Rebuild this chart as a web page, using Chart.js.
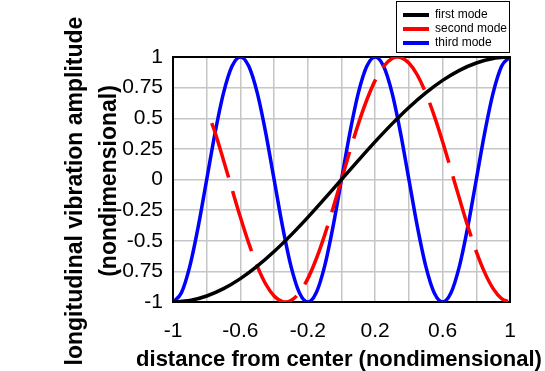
<!DOCTYPE html>
<html>
<head>
<meta charset="utf-8">
<script src="https://cdn.jsdelivr.net/npm/chart.js@4/dist/chart.umd.min.js"></script>
<style>
  body { margin: 0; background: #fff; }
</style>
</head>
<body>
<canvas id="grafico" width="545" height="371"></canvas>
<script>
// valores
const firstModeX = [-1, -0.9, -0.8, -0.7, -0.6, -0.5, -0.4, -0.3, -0.2, -0.1, 0,
    0.1, 0.2, 0.3, 0.4, 0.5, 0.6, 0.7, 0.8, 0.9, 1];
const firstModeY = [-1, -0.988, -0.951, -0.891, -0.809, -0.707, -0.588, -0.454, -0.309, -0.156, 0,
    0.156, 0.309, 0.454, 0.588, 0.707, 0.809, 0.891, 0.951, 0.988, 1];

const secondModeX = [-0.77, -0.75, -0.7, -0.65, -0.6, -0.55, -0.5, -0.45, -0.4, -0.35, -0.333, -0.3, -0.25, -0.2, -0.15, -0.1, -0.05, 0,
    0.05, 0.1, 0.15, 0.2, 0.25, 0.3, 0.333, 0.35, 0.4, 0.45, 0.5, 0.55, 0.6, 0.65, 0.7, 0.75, 0.8, 0.85, 0.9, 0.95, 1];
const secondModeY = [0.46, 0.383, 0.156, -0.078, -0.309, -0.522, -0.707, -0.853, -0.951, -0.997, -1, -0.988, -0.924, -0.809, -0.649, -0.454, -0.233, 0,
    0.233, 0.454, 0.649, 0.809, 0.924, 0.988, 1, 0.997, 0.951, 0.853, 0.707, 0.522, 0.309, 0.078, -0.156, -0.383, -0.588, -0.76, -0.891, -0.972, -1];

const thirdModeX = [-1, -0.95, -0.9, -0.85, -0.8, -0.75, -0.7, -0.65, -0.6, -0.55, -0.5, -0.45, -0.4, -0.35, -0.3, -0.25, -0.2, -0.15, -0.1, -0.05, 0,
    0.05, 0.1, 0.15, 0.2, 0.25, 0.3, 0.35, 0.4, 0.45, 0.5, 0.55, 0.6, 0.65, 0.7, 0.75, 0.8, 0.85, 0.9, 0.95, 1];
const thirdModeY = [-1, -0.924, -0.707, -0.383, 0, 0.383, 0.707, 0.924, 1, 0.924, 0.707, 0.383, 0, -0.383, -0.707, -0.924, -1, -0.924, -0.707, -0.383, 0,
    0.383, 0.707, 0.924, 1, 0.924, 0.707, 0.383, 0, -0.383, -0.707, -0.924, -1, -0.924, -0.707, -0.383, 0, 0.383, 0.707, 0.924, 1];

const seriesNames = ["first mode", "second mode", "third mode"];
const xTickLabels = ["-1", "-0.6", "-0.2", "0.2", "0.6", "1"];
const yTickLabels = ["-1", "-0.75", "-0.5", "-0.25", "0", "0.25", "0.5", "0.75", "1"];
const xTitle = "distance from center (nondimensional)";
const yTitle = ["longitudinal vibration amplitude", "(nondimensional)"];

function puntos(xs, ys) {
    return xs.map((x, i) => ({ x: x, y: ys[i] }));
}

const FONT = "'Liberation Sans', Arial, sans-serif";

// marco negro debajo de las curvas
const marco = {
    id: "marco",
    beforeDatasetsDraw(chart) {
        const a = chart.chartArea;
        const ctx = chart.ctx;
        ctx.save();
        ctx.strokeStyle = "#000";
        ctx.lineWidth = 2;
        ctx.strokeRect(a.left, a.top, a.right - a.left, a.bottom - a.top);
        ctx.restore();
    }
};

// titulos de los ejes y leyenda en caja
const extras = {
    id: "extras",
    afterDraw(chart) {
        const ctx = chart.ctx;
        ctx.save();
        ctx.fillStyle = "#000";
        ctx.textAlign = "center";
        ctx.textBaseline = "alphabetic";

        ctx.font = "bold 22px " + FONT;
        ctx.fillText(xTitle, 339, 366);

        ctx.font = "bold 23px " + FONT;
        [[82, 191], [116, 181]].forEach((p, i) => {
            ctx.save();
            ctx.translate(p[0], p[1]);
            ctx.rotate(-Math.PI / 2);
            ctx.fillText(yTitle[i], 0, 0);
            ctx.restore();
        });

        // leyenda
        ctx.fillStyle = "#fff";
        ctx.fillRect(396.5, 1.5, 113, 51);
        ctx.strokeStyle = "#000";
        ctx.lineWidth = 1;
        ctx.strokeRect(396.5, 1.5, 113, 51);
        ctx.font = "12px " + FONT;
        ctx.textAlign = "left";
        ctx.textBaseline = "middle";
        chart.data.datasets.forEach((ds, i) => {
            const y = 15 + i * 14;
            ctx.strokeStyle = ds.borderColor;
            ctx.lineWidth = 4;
            ctx.beginPath();
            ctx.moveTo(403, y);
            ctx.lineTo(429, y);
            ctx.stroke();
            ctx.fillStyle = "#000";
            ctx.fillText(ds.label, 435, y);
        });
        ctx.restore();
    }
};

const ctx = document.getElementById("grafico").getContext("2d");
new Chart(ctx, {
    type: "line",
    data: {
        datasets: [{
            label: seriesNames[0],
            data: puntos(firstModeX, firstModeY),
            borderColor: "#000000",
            borderWidth: 3.5
        }, {
            label: seriesNames[1],
            data: puntos(secondModeX, secondModeY),
            borderColor: "#ff0000",
            borderWidth: 3.5,
            borderDash: [63, 14],
            borderDashOffset: 6
        }, {
            label: seriesNames[2],
            data: puntos(thirdModeX, thirdModeY),
            borderColor: "#0000ff",
            borderWidth: 3.5
        }]
    },
    options: {
        responsive: false,
        animation: false,
        layout: { padding: { top: 57, right: 35, left: 0, bottom: 0 } },
        elements: {
            point: { radius: 0 },
            line: { cubicInterpolationMode: "monotone", fill: false }
        },
        plugins: {
            legend: { display: false },
            tooltip: { enabled: false }
        },
        scales: {
            x: {
                type: "linear",
                min: -1,
                max: 1,
                afterFit: (s) => { s.height = 69; },
                grid: { color: "#c6c6c6", lineWidth: 1.5, drawTicks: false },
                border: { display: false },
                ticks: {
                    stepSize: 0.2,
                    autoSkip: false,
                    maxRotation: 0,
                    padding: 17,
                    color: "#000",
                    font: { family: FONT, size: 21 },
                    callback: (v) => {
                        const t = String(+Number(v).toFixed(2));
                        return xTickLabels.includes(t) ? t : "";
                    }
                }
            },
            y: {
                min: -1,
                max: 1,
                afterFit: (s) => { s.width = 173; },
                grid: { color: "#c6c6c6", lineWidth: 1.5, drawTicks: false },
                border: { display: false },
                ticks: {
                    stepSize: 0.25,
                    padding: 10,
                    color: "#000",
                    font: { family: FONT, size: 21 },
                    callback: (v, i) => yTickLabels[i]
                }
            }
        }
    },
    plugins: [marco, extras]
});
</script>
</body>
</html>
